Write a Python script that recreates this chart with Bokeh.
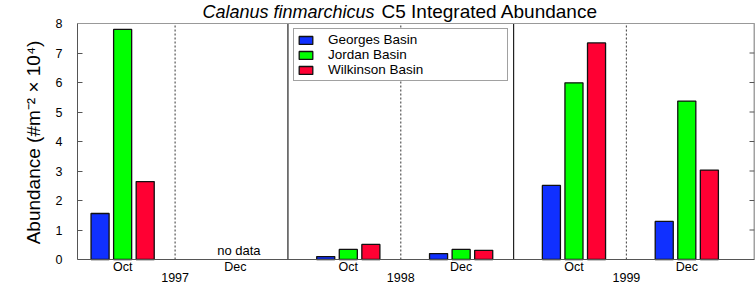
import numpy as np
from bokeh.plotting import figure
from bokeh.models import (ColumnDataSource, FixedTicker, Span,
                          LabelSet, Legend, LegendItem, Range1d)
from bokeh.core.properties import value
from bokeh.embed import file_html
from bokeh.resources import INLINE

# ---- data ----
months = ["Oct", "Dec", "Oct", "Dec", "Oct", "Dec"]
years = ["1997", "1998", "1999"]
series_names = ["Georges Basin", "Jordan Basin", "Wilkinson Basin"]
georges = [1.56, np.nan, 0.10, 0.20, 2.51, 1.29]
jordan = [7.80, np.nan, 0.34, 0.34, 5.99, 5.37]
wilkinson = [2.64, np.nan, 0.51, 0.31, 7.34, 3.03]
y_ticks = [0, 1, 2, 3, 4, 5, 6, 7, 8]
title_parts = ["Calanus finmarchicus", "C5 Integrated Abundance"]
colors = ["#1030ff", "#00ff00", "#ff0033"]

FONT = "Liberation Sans"
x = np.arange(1, len(months) + 1)
YMIN, YMAX = 0, 8
X0, X1 = 0.6, 6.6
PXX = 677 / (X1 - X0)   # px per x unit
PXY = 29.5              # px per y unit
SEP_SHIFT = -0.035      # separators sit slightly left of the midpoint

# frame spans the whole height; 23 px above 8 and 25 px below 0
p = figure(width=755, height=284, output_backend="svg", toolbar_location=None,
           x_range=Range1d(X0, X1), y_range=Range1d(YMIN - 25 / PXY, YMAX + 23 / PXY),
           min_border_left=77, min_border_right=1, min_border_top=0, min_border_bottom=0)
p.title.visible = False
p.xgrid.visible = False
p.ygrid.visible = False
p.outline_line_color = None
p.xaxis.visible = False

# frame lines
p.add_layout(Span(location=YMAX, dimension="width", line_color="#999999", line_width=1.2))
p.add_layout(Span(location=YMIN, dimension="width", line_color="#555555", line_width=1.2))

# separators between months (dotted) and years (solid)
dot_x = [2 * i + 1.5 + SEP_SHIFT for i in range(len(years))]
solid_x = [2 * i + 0.5 + SEP_SHIFT for i in range(1, len(years))]
p.segment(x0=dot_x, y0=[YMIN] * len(dot_x), x1=dot_x, y1=[YMAX] * len(dot_x),
          line_color="#555555", line_width=1.2, line_dash="2 2")
p.segment(x0=solid_x, y0=[YMIN] * len(solid_x), x1=solid_x, y1=[YMAX] * len(solid_x),
          line_color="#222222", line_width=1.2)
# right border with inward ticks
p.segment(x0=[X1], y0=[YMIN], x1=[X1], y1=[YMAX], line_color="#444444", line_width=1.5)
p.ray(x=[X1] * len(y_ticks), y=y_ticks, length=5, length_units="screen", angle=np.pi,
      line_color="#555555", line_width=1)

# bars
offsets = [-0.2, 0.0, 0.2]
renderers = []
for vals, off, col in zip([georges, jordan, wilkinson], offsets, colors):
    src = ColumnDataSource(dict(x=x + off, top=vals))
    r = p.vbar(x="x", top="top", bottom=0, width=0.16, source=src,
               fill_color=col, line_color="#111111", line_width=1.3)
    renderers.append(r)

# no data labels
nd = [i for i, v in enumerate(georges) if np.isnan(v)]
nd_src = ColumnDataSource(dict(x=[x[i] + 0.03 for i in nd], y=[0] * len(nd), t=["no data"] * len(nd)))
p.add_layout(LabelSet(x="x", y="y", text="t", source=nd_src, y_offset=5, text_align="center",
                      text_baseline="alphabetic", text_font=value(FONT),
                      text_font_size=value("13px"), text_color="black"))

# month labels
m_src = ColumnDataSource(dict(x=list(x), y=[0] * len(months), t=months))
p.add_layout(LabelSet(x="x", y="y", text="t", source=m_src, y_offset=-11, text_align="center",
                      text_baseline="alphabetic", text_font=value(FONT),
                      text_font_size=value("12.5px"), text_color="black"))

# year labels
yr_src = ColumnDataSource(dict(x=dot_x, y=[0] * len(years), t=years))
p.add_layout(LabelSet(x="x", y="y", text="t", source=yr_src, y_offset=-22, text_align="center",
                      text_baseline="alphabetic", text_font=value(FONT),
                      text_font_size=value("12.5px"), text_color="black"))

# title (italic species name + plain rest)
t_src = ColumnDataSource(dict(
    x=[X0 + (374 - 77) / PXX, X0 + (381 - 77) / PXX],
    y=[YMAX, YMAX],
    t=title_parts,
    align=["right", "left"],
    style=["italic", "normal"],
    size=["18px", "19px"],
))
p.add_layout(LabelSet(x="x", y="y", text="t", source=t_src, y_offset=6, text_align="align",
                      text_baseline="alphabetic", text_font=value(FONT),
                      text_font_size="size", text_font_style="style", text_color="black"))

# y axis
p.yaxis.bounds = (YMIN, YMAX)
p.yaxis.ticker = FixedTicker(ticks=y_ticks)
p.yaxis.major_tick_in = 5
p.yaxis.major_tick_out = 0
p.yaxis.minor_tick_line_color = None
p.yaxis.axis_line_color = "#555555"
p.yaxis.major_tick_line_color = "#555555"
p.yaxis.major_label_text_font = FONT
p.yaxis.major_label_text_font_size = "12.5px"
p.yaxis.major_label_text_color = "black"
p.yaxis.major_label_standoff = 15
p.yaxis.axis_label = "Abundance (#m\u207b\u00b2 \u00d7 10\u2074)"
p.yaxis.axis_label_text_font = FONT
p.yaxis.axis_label_text_font_size = "19px"
p.yaxis.axis_label_text_font_style = "normal"
p.yaxis.axis_label_text_color = "black"
p.yaxis.axis_label_standoff = 9

# legend
legend = Legend(items=[LegendItem(label=n, renderers=[r]) for n, r in zip(series_names, renderers)],
                location=(216, 203))
legend.border_line_color = "#444444"
legend.border_line_width = 1.5
legend.padding = 3
legend.spacing = 0
legend.margin = 0
legend.glyph_width = 17
legend.glyph_height = 10
legend.label_height = 9
legend.label_standoff = 14
legend.label_width = 176
legend.label_text_font = FONT
legend.label_text_font_size = "13.5px"
legend.label_text_color = "black"
legend.background_fill_color = "white"
legend.background_fill_alpha = 1
p.add_layout(legend)

open("out.html", "w").write(file_html(p, INLINE))
